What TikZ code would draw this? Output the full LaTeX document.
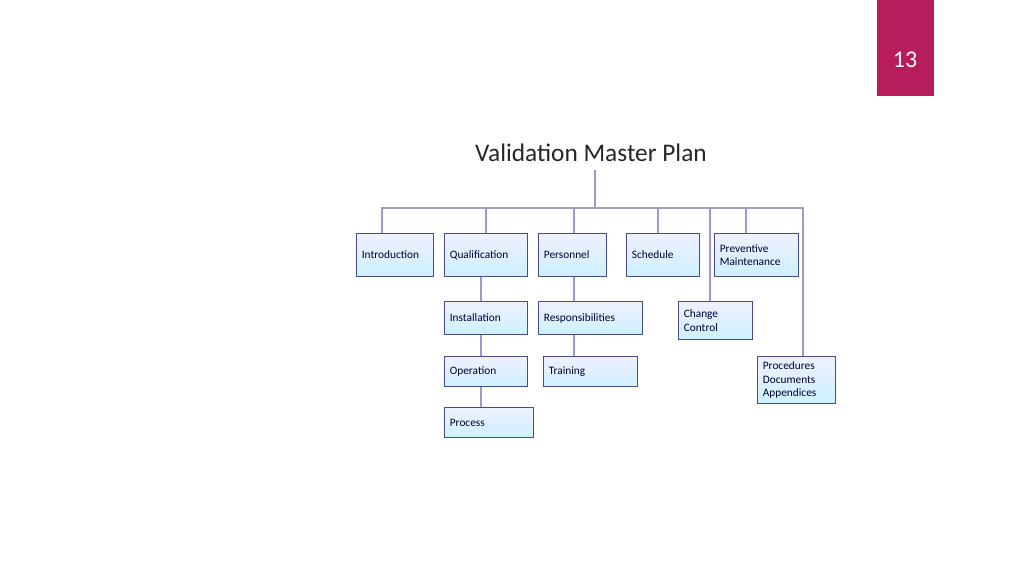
\documentclass[tikz,border=0pt]{standalone}
\usepackage{fontspec}
\setmainfont{Carlito}
\begin{document}
\begin{tikzpicture}[x=0.75pt,y=-0.75pt,
 bx/.style={draw=black!45!blue!40!gray,line width=0.8pt,top color=blue!6,bottom color=blue!28!cyan!20,inner sep=0pt,font=\fontsize{8.5}{10}\selectfont\color{black!80!blue},align=left,anchor=north west},
 ln/.style={draw=gray!70!blue!60,line width=0.9pt}]
\useasboundingbox (0,0) rectangle (1024,576);
\fill[fill={rgb,255:red,183;green,28;blue,92}] (877,0) rectangle (934,96);
\node[text=white,font=\fontsize{18}{20}\selectfont] (pg) at (905,60) {13};
\node[font=\fontsize{19}{22}\selectfont,text=black!85] (t) at (591,153) {Validation Master Plan};
\newcommand{\bxx}[6]{\node[bx,minimum width={(#4-#2)*0.75pt},minimum height={(#5-#3)*0.75pt},text width={(#4-#2)*0.75pt-8pt}] (#1) at (#2,#3) {#6};}
\bxx{intro}{356}{233}{433}{276}{Introduction}
\bxx{qual}{444}{233}{527}{276}{Qualification}
\bxx{pers}{538}{233}{606}{276}{Personnel}
\bxx{sched}{626}{233}{699}{276}{Schedule}
\bxx{prev}{714}{233}{798}{276}{Preventive\\Maintenance}
\bxx{inst}{444}{301}{527}{334}{Installation}
\bxx{resp}{538}{301}{642}{334}{Responsibilities}
\bxx{chg}{678}{301}{752}{339}{Change\\Control}
\bxx{oper}{444}{356}{527}{386}{Operation}
\bxx{train}{543}{356}{637}{386}{Training}
\bxx{proc}{757}{356}{835}{403}{Procedures\\Documents\\Appendices}
\bxx{prcs}{444}{407}{533}{437}{Process}
\coordinate (s) at (595,170);
\coordinate (bl) at (382,208);
\coordinate (br) at (803,208);
\draw[ln] (s) -- (595,208);
\draw[ln] (intro.north -| bl) -- (bl) -- (br) -- (br |- proc.north);
\foreach \n/\x in {qual/486,pers/574,sched/658,prev/746}{\draw[ln] (\x,208) -- (\n.north -| \x,0);}
\draw[ln] (710,208) -- (chg.north -| 710,0);
\draw[ln] (qual.south -| 481,0) -- (inst.north -| 481,0);
\draw[ln] (inst.south -| 481,0) -- (oper.north -| 481,0);
\draw[ln] (oper.south -| 481,0) -- (prcs.north -| 481,0);
\draw[ln] (pers.south -| 574,0) -- (resp.north -| 574,0);
\draw[ln] (resp.south -| 574,0) -- (train.north -| 574,0);
\end{tikzpicture}
\end{document}
